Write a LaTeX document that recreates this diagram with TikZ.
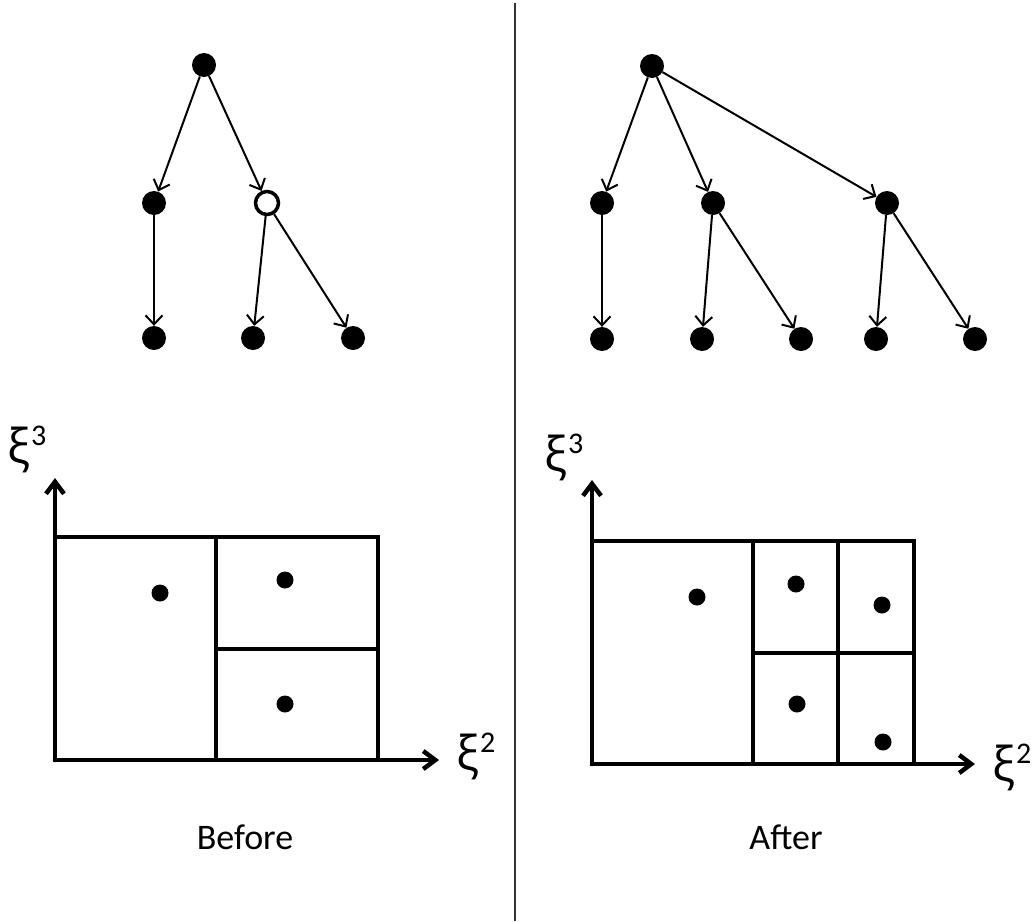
\documentclass[tikz,border=0pt]{standalone}
\usepackage{fontspec}
\setmainfont{Carlito}
\newfontfamily\greekfont{Open Sans}
\usetikzlibrary{arrows.meta}
\newcommand{\xilabel}[1]{{\greekfont\fontsize{48}{52}\selectfont ξ}\kern1pt\raisebox{18pt}{\fontsize{30}{32}\selectfont #1}}
\begin{document}
\begin{tikzpicture}[x=1pt,y=-1pt,
  full/.style={circle,fill=black,minimum size=24pt,inner sep=0pt},
  hollow/.style={circle,draw=black,fill=white,line width=3.5pt,minimum size=23pt,inner sep=0pt},
  edge/.style={line width=2pt,-{Straight Barb[length=9pt,width=17pt]}},
  axis/.style={line width=4.5pt,line cap=round,-{Straight Barb[length=12pt,width=18pt]}},
  cell/.style={line width=4.5pt},
  sample/.style={circle,fill=black,minimum size=17pt,inner sep=0pt},
  caption/.style={font=\fontsize{36}{40}\selectfont,inner sep=0pt},
  axlabel/.style={inner sep=0pt,anchor=base west}]
\useasboundingbox (0,0) rectangle (1033,921);

% separator between the two halves
\draw[line width=1.8pt,black!80] (515,3) -- (515,921);

% ---------- tree before refinement ----------
\node[full]   (a0) at (204,65) {};
\node[full]   (a1) at (154,203) {};
\node[hollow] (a2) at (267,203) {};
\node[full]   (a3) at (154,338) {};
\node[full]   (a4) at (253,338) {};
\node[full]   (a5) at (353,338) {};
\draw[edge] (a0) -- (a1);
\draw[edge] (a0) -- (a2);
\draw[edge] (a1) -- (a3);
\draw[edge] (a2) -- (a4);
\draw[edge] (a2) -- (a5);

% ---------- tree after refinement ----------
\node[full] (b0) at (652,66) {};
\node[full] (b1) at (602,203) {};
\node[full] (b2) at (713,203) {};
\node[full] (b3) at (887,203) {};
\node[full] (b4) at (602,339) {};
\node[full] (b5) at (702,339) {};
\node[full] (b6) at (801,339) {};
\node[full] (b7) at (876,339) {};
\node[full] (b8) at (975,339) {};
\draw[edge] (b0) -- (b1);
\draw[edge] (b0) -- (b2);
\draw[edge] (b0) -- (b3);
\draw[edge] (b1) -- (b4);
\draw[edge] (b2) -- (b5);
\draw[edge] (b2) -- (b6);
\draw[edge] (b3) -- (b7);
\draw[edge] (b3) -- (b8);

% ---------- partition before ----------
\coordinate (o1) at (55,760);
\coordinate (y1) at (55,478);
\coordinate (x1) at (439,760);
\draw[cell] (55,537) rectangle (378,760);
\draw[cell] (216,537) -- (216,760);
\draw[cell] (216,649) -- (378,649);
\draw[axis] (o1) -- (y1);
\draw[axis] (o1) -- (x1);
\node[sample] (p1) at (160,593) {};
\node[sample] (p2) at (285,580) {};
\node[sample] (p3) at (285,704) {};
\node[axlabel] (l13) at (7,463) {\xilabel{3}};
\node[axlabel] (l12) at (456,770) {\xilabel{2}};
\node[caption] (cap1) at (245,837) {Before};

% ---------- partition after ----------
\coordinate (o2) at (592,764);
\coordinate (y2) at (592,480);
\coordinate (x2) at (975,764);
\draw[cell] (592,541) rectangle (914,764);
\draw[cell] (753,541) -- (753,764);
\draw[cell] (838,541) -- (838,764);
\draw[cell] (753,653) -- (914,653);
\draw[axis] (o2) -- (y2);
\draw[axis] (o2) -- (x2);
\node[sample] (q1) at (697,597) {};
\node[sample] (q2) at (796,584) {};
\node[sample] (q3) at (882,605) {};
\node[sample] (q4) at (797,704) {};
\node[sample] (q5) at (883,742) {};
\node[axlabel] (l23) at (544,471) {\xilabel{3}};
\node[axlabel] (l22) at (992,781) {\xilabel{2}};
\node[caption] (cap2) at (786,837) {After};
\end{tikzpicture}
\end{document}
